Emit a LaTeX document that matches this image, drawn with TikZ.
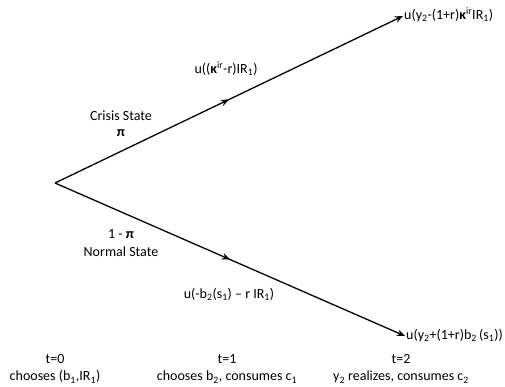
\documentclass[tikz,border=0pt]{standalone}
\usepackage{fontspec}
\setmainfont{Carlito}
\usetikzlibrary{arrows.meta, positioning, decorations.markings}

\begin{document}
\begin{tikzpicture}[
  x=1pt, y=-1pt,
  lbl/.style    = {font=\fontsize{14}{16}\selectfont, inner sep=1pt,
                   text height=10pt, text depth=3pt},
  tip/.style    = {-{Stealth[length=8pt, width=6.5pt, inset=2.5pt]}},
  branch/.style = {line width=1.3pt, tip, postaction=decorate,
                   decoration={markings, mark=at position 0.5 with
                   {\arrow{Stealth[length=8pt, width=6.5pt, inset=2.5pt]}}}},
]
\useasboundingbox (0,0) rectangle (505,387);

\coordinate (root) at (55,183);

% outcomes at t=2
\node[lbl, anchor=west] (crisisU) at (403,16)
  {u(y\textsubscript{2}-(1+r)\textbf{κ}\textsuperscript{ir}IR\textsubscript{1})};
\node[lbl, anchor=west] (normalU) at (405,336)
  {u(y\textsubscript{2}+(1+r)b\textsubscript{2}\,(s\textsubscript{1}))};

\draw[branch] (root) -- (crisisU.west);
\draw[branch] (root) -- (normalU.west);

% payoffs at t=1
\node[lbl] (crisisC) at (226,70)
  {u((\textbf{κ}\textsuperscript{ir}-r)IR\textsubscript{1})};
\node[lbl] (normalC) at (229,295)
  {u(-b\textsubscript{2}(s\textsubscript{1}) – r IR\textsubscript{1})};

% states
\node[lbl] (crisis) at (121,117) {Crisis State};
\node[lbl, below=1pt of crisis] (pi) {\textbf{π}};
\node[lbl] (onepi) at (121,235) {1 - \textbf{π}};
\node[lbl, below=3pt of onepi] (normal) {Normal State};

% timeline
\node[lbl] (t0) at (55,360) {t=0};
\node[lbl, below=2pt of t0] (c0) {chooses (b\textsubscript{1},IR\textsubscript{1})};
\node[lbl] (t1) at (227,360) {t=1};
\node[lbl, below=2pt of t1] (c1) {chooses b\textsubscript{2}, consumes c\textsubscript{1}};
\node[lbl] (t2) at (401,360) {t=2};
\node[lbl, below=2pt of t2] (c2) {y\textsubscript{2} realizes, consumes c\textsubscript{2}};
\end{tikzpicture}
\end{document}
